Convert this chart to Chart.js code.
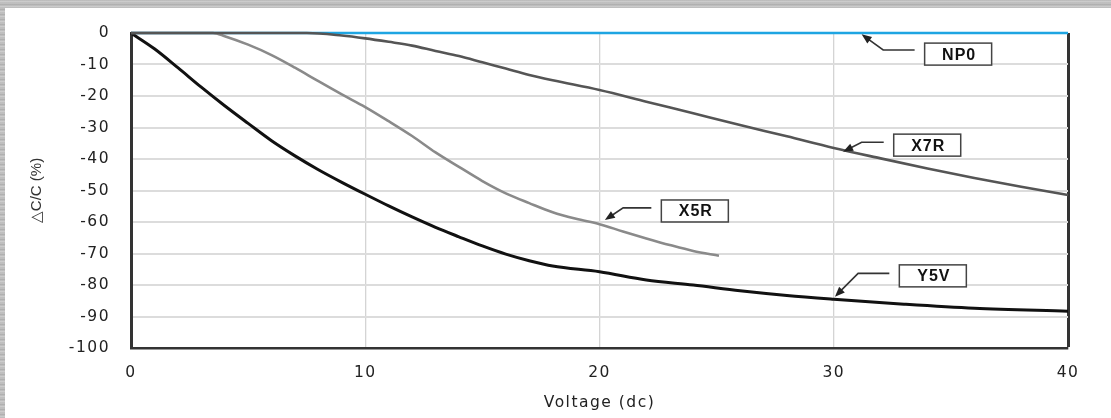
<!DOCTYPE html>
<html>
<head>
<meta charset="utf-8">
<script src="https://cdn.jsdelivr.net/npm/chart.js@4/dist/chart.umd.min.js"></script>
<style>
  html, body { margin: 0; padding: 0; }
  body {
    width: 1111px; height: 418px; overflow: hidden; position: relative;
    background: repeating-linear-gradient(0deg, #b9b9b9 0px, #d2d2d2 2px, #a9a9a9 3px, #c6c6c6 5px);
  }
  #wrap { position: absolute; left: 5px; top: 8px; width: 1106px; height: 410px; background: #fff; }
</style>
</head>
<body>
<div id="wrap"><canvas id="dcChart"></canvas></div>
<script>
// voltage (dc) vs capacitance change (%)
const voltY5V = [0, 1, 2, 3, 4, 5, 6, 7, 8, 9, 10, 11, 12, 13, 14, 15, 16, 17, 18, 20, 22, 24, 26, 28, 30, 33, 36, 40];
const capY5V  = [0, -5, -11, -17.2, -23.1, -28.7, -34.2, -39, -43.4, -47.4, -51.2, -54.9, -58.4, -61.7, -64.7, -67.6, -70.2, -72.3, -74, -75.8, -78.4, -80, -81.8, -83.3, -84.5, -86.1, -87.4, -88.3];

const voltX5R = [0, 3.5, 4, 5, 6, 7, 8, 9, 10, 11, 12, 13, 14, 15, 16, 17, 18, 19, 20, 21, 22, 23, 24, 25.1];
const capX5R  = [0, 0, -1, -3.7, -7, -11, -15.3, -19.5, -23.5, -28, -32.7, -37.9, -42.5, -47, -50.9, -54, -56.9, -59, -60.7, -63, -65.2, -67.3, -69.2, -70.7];

const voltX7R = [0, 7.5, 9, 10, 11, 12, 13, 14, 15, 16, 17, 18, 20, 22, 24, 26, 28, 30, 32, 34, 36, 38, 40];
const capX7R  = [0, 0, -0.8, -1.7, -2.8, -4, -5.7, -7.3, -9.3, -11.3, -13.3, -15, -18.1, -21.8, -25.5, -29.2, -32.8, -36.5, -39.8, -43, -46, -48.8, -51.4];

const voltNP0 = [0, 40];
const capNP0  = [0, 0];

const xTicks = [0, 10, 20, 30, 40];
const yTicks = [0, -10, -20, -30, -40, -50, -60, -70, -80, -90, -100];

// callout labels (data coordinates)
const labelNames = ['NP0', 'X7R', 'X5R', 'Y5V'];
const labelX = [35.31, 33.99, 24.07, 34.23];
const labelY = [-6.7, -35.6, -56.5, -77.1];
const bendX  = [32.11, 31.19, 21.01, 31.04];
const bendY  = [-5.4, -34.7, -55.5, -76.3];
const tipX   = [31.19, 30.40, 20.23, 30.05];
const tipY   = [-0.4, -37.7, -59.4, -83.7];

const SPACING = '1.5px';
const TICK_FONT = { family: 'DejaVu Sans', size: 15.5 };

function pts(xs, ys) { return xs.map((v, i) => ({ x: v, y: ys[i] })); }

const spacingPlugin = {
  id: 'spacing',
  beforeUpdate(chart) { chart.ctx.letterSpacing = SPACING; },
  beforeDraw(chart) { chart.ctx.letterSpacing = SPACING; }
};

const calloutPlugin = {
  id: 'callouts',
  afterDatasetsDraw(chart) {
    const { ctx, scales: { x, y } } = chart;
    ctx.save();
    // y axis title
    ctx.letterSpacing = '0px';
    ctx.fillStyle = '#333';
    ctx.font = '15px "Liberation Sans"';
    ctx.textAlign = 'center';
    ctx.textBaseline = 'middle';
    ctx.translate(32, (chart.chartArea.top + chart.chartArea.bottom) / 2);
    ctx.rotate(-Math.PI / 2);
    ctx.fillText('\u25B3C/C (%)', 0, 0);
    ctx.restore();

    ctx.save();
    ctx.letterSpacing = '1px';
    labelNames.forEach((name, i) => {
      const cx = x.getPixelForValue(labelX[i]);
      const cy = y.getPixelForValue(labelY[i]);
      const bw = 67, bh = 22;
      const bx = x.getPixelForValue(bendX[i]);
      const by = y.getPixelForValue(bendY[i]);
      const tx = x.getPixelForValue(tipX[i]);
      const ty = y.getPixelForValue(tipY[i]);
      // arrow line
      ctx.strokeStyle = '#333';
      ctx.lineWidth = 1.6;
      ctx.beginPath();
      ctx.moveTo(cx - bw / 2 - 10, by);
      ctx.lineTo(bx, by);
      const ang = Math.atan2(ty - by, tx - bx);
      ctx.lineTo(tx - Math.cos(ang) * 6, ty - Math.sin(ang) * 6);
      ctx.stroke();
      // arrow head
      ctx.fillStyle = '#222';
      ctx.beginPath();
      ctx.moveTo(tx, ty);
      ctx.lineTo(tx - Math.cos(ang) * 10 - Math.sin(ang) * 4, ty - Math.sin(ang) * 10 + Math.cos(ang) * 4);
      ctx.lineTo(tx - Math.cos(ang) * 10 + Math.sin(ang) * 4, ty - Math.sin(ang) * 10 - Math.cos(ang) * 4);
      ctx.closePath();
      ctx.fill();
      // box
      ctx.fillStyle = '#fff';
      ctx.fillRect(cx - bw / 2, cy - bh / 2, bw, bh);
      ctx.strokeStyle = '#444';
      ctx.lineWidth = 1.5;
      ctx.strokeRect(cx - bw / 2, cy - bh / 2, bw, bh);
      ctx.fillStyle = '#111';
      ctx.font = 'bold 16px "Liberation Sans"';
      ctx.textAlign = 'center';
      ctx.textBaseline = 'middle';
      ctx.fillText(name, cx + 1, cy + 1);
    });
    ctx.restore();
  }
};

const ctx = document.getElementById('dcChart').getContext('2d');

new Chart(ctx, {
  type: 'line',
  data: {
    datasets: [
      { label: 'X7R', data: pts(voltX7R, capX7R), borderColor: '#555', borderWidth: 2.6 },
      { label: 'X5R', data: pts(voltX5R, capX5R), borderColor: '#8a8a8a', borderWidth: 2.6 },
      { label: 'Y5V', data: pts(voltY5V, capY5V), borderColor: '#111', borderWidth: 3 },
      { label: 'NP0', data: pts(voltNP0, capNP0), borderColor: '#1ea5e2', borderWidth: 2.6 }
    ]
  },
  options: {
    responsive: true,
    maintainAspectRatio: false,
    animation: false,
    elements: {
      point: { radius: 0 },
      line: { cubicInterpolationMode: 'monotone', fill: false }
    },
    datasets: { line: { clip: 6 } },
    layout: { padding: { left: 0, right: 43, top: 25, bottom: 0 } },
    plugins: { legend: { display: false }, tooltip: { enabled: false } },
    scales: {
      x: {
        type: 'linear',
        min: 0, max: 40,
        afterBuildTicks: s => { s.ticks = xTicks.map(v => ({ value: v })); },
        afterFit: s => { s.height = 70; s.paddingLeft = 0; s.paddingRight = 0; },
        ticks: { font: TICK_FONT, color: '#222', padding: 16, maxRotation: 0 },
        grid: {
          drawTicks: false,
          color: c => c.tick && c.tick.value === 40 ? '#333' : (c.tick && c.tick.value === 0 ? 'rgba(0,0,0,0)' : '#d4d4d4'),
          lineWidth: c => c.tick && c.tick.value === 40 ? 3 : 1.3
        },
        border: { display: true, color: '#333', width: 2.5 },
        title: { display: true, text: 'Voltage (dc)', color: '#222', font: { family: 'DejaVu Sans', size: 15.5 }, padding: { top: 0, bottom: 6 } }
      },
      y: {
        type: 'linear',
        min: -100, max: 0,
        afterBuildTicks: s => { s.ticks = yTicks.map(v => ({ value: v })); },
        afterFit: s => { s.width = 126; s.paddingTop = 0; s.paddingBottom = 0; },
        ticks: { font: TICK_FONT, color: '#222', padding: 21 },
        grid: {
          drawTicks: false,
          color: c => c.tick && (c.tick.value === 0 || c.tick.value === -100) ? 'rgba(0,0,0,0)' : '#dcdcdc',
          lineWidth: 2
        },
        border: { display: true, color: '#333', width: 3 }
      }
    }
  },
  plugins: [spacingPlugin, calloutPlugin]
});
</script>
</body>
</html>
